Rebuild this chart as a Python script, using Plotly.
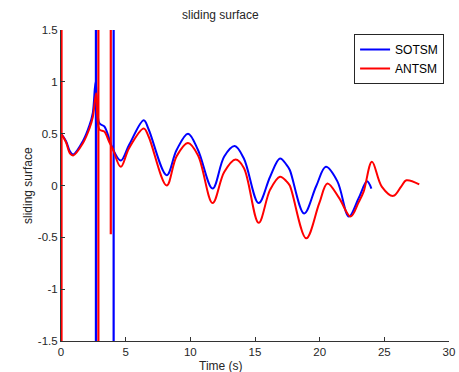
import plotly.graph_objects as go

# --- data ---
t_sotsm = [0.0, 0.38, 0.69, 0.94, 1.7, 2.2, 2.46, 2.68,
           2.97, 3.35, 3.73, 3.98, 4.62, 5.26, 6.4, 6.78, 8.17, 8.93, 9.82,
           10.6, 11.72, 12.62, 13.43, 14.14, 15.28, 16.17, 16.93, 17.44, 17.69,
           18.8, 19.72, 20.48, 21.37, 22.26, 23.02, 23.66, 24.0]
v_sotsm = [0.50, 0.43, 0.33, 0.30, 0.43, 0.58, 0.70, 1.00,
           0.60, 0.57, 0.45, 0.36, 0.24, 0.39, 0.63, 0.54, 0.10, 0.34, 0.50,
           0.34, -0.03, 0.28, 0.38, 0.26, -0.17, 0.085, 0.26, 0.20, 0.15,
           -0.27, -0.01, 0.18, 0.04, -0.30, -0.12, 0.04, -0.03]

t_antsm = [0.0, 0.38, 0.69, 0.94, 1.7, 2.2, 2.46, 2.72,
           2.97, 3.35, 3.73, 3.98, 4.62, 5.26, 6.4, 6.78, 8.17, 8.93, 9.82,
           10.6, 11.72, 12.62, 13.5, 14.14, 15.28, 16.17, 16.93, 17.44, 17.69,
           18.96, 19.97, 20.6, 21.5, 22.39, 23.02, 23.4, 24.04, 24.8, 25.69,
           26.3, 26.7, 27.7]
v_antsm = [0.50, 0.42, 0.31, 0.29, 0.41, 0.55, 0.66, 0.89,
           0.54, 0.52, 0.42, 0.36, 0.18, 0.36, 0.55, 0.47, 0.0, 0.28, 0.41,
           0.29, -0.17, 0.13, 0.25, 0.17, -0.36, -0.04, 0.085, 0.04, 0.0,
           -0.51, -0.17, 0.02, -0.12, -0.30, -0.16, -0.06, 0.23, -0.01, -0.10,
           -0.01, 0.05, 0.01]

# chattering spikes (time, low value, high value)
spike_t_sotsm = [2.70, 4.07]
spike_lo_sotsm = [-5.0, -5.0]
spike_hi_sotsm = [5.0, 5.0]
spike_t_antsm = [0.04, 2.89, 3.85]
spike_lo_antsm = [-5.0, -5.0, -0.47]
spike_hi_antsm = [5.0, 5.0, 5.0]

x_ticks = [0, 5, 10, 15, 20, 25, 30]
y_ticks = [-1.5, -1, -0.5, 0, 0.5, 1, 1.5]
y_tick_text = ["-1.5", "-1", "-0.5", "0", "0.5", "1", "1.5"]

BLUE = "#0000FF"
RED = "#FF0000"
FONT = "Liberation Sans, Arial, sans-serif"

fig = go.Figure()

def add_spikes(ts, los, his, color, group):
    xs, ys = [], []
    for t, lo, hi in zip(ts, los, his):
        xs += [t, t, None]
        ys += [lo, hi, None]
    fig.add_trace(go.Scatter(x=xs, y=ys, mode="lines", line=dict(color=color, width=2.2),
                             showlegend=False, legendgroup=group, hoverinfo="skip"))

fig.add_trace(go.Scatter(x=t_sotsm, y=v_sotsm, mode="lines", name="SOTSM",
                         line=dict(color=BLUE, width=2, shape="spline", smoothing=1.0),
                         legendgroup="s"))
add_spikes(spike_t_sotsm, spike_lo_sotsm, spike_hi_sotsm, BLUE, "s")
fig.add_trace(go.Scatter(x=t_antsm, y=v_antsm, mode="lines", name="ANTSM",
                         line=dict(color=RED, width=2, shape="spline", smoothing=1.0),
                         legendgroup="a"))
add_spikes(spike_t_antsm, spike_lo_antsm, spike_hi_antsm, RED, "a")

W, H = 459, 372
L, R, T, B = 61, 4, 30, 31

fig.update_layout(
    width=W, height=H,
    margin=dict(l=L, r=R, t=T, b=B, pad=0),
    paper_bgcolor="white", plot_bgcolor="white",
    font=dict(family=FONT, size=12, color="#262626"),
    showlegend=True,
    legend=dict(x=(450 - L) / (W - L - R), y=(H - B - 34) / (H - T - B),
                xanchor="right", yanchor="top",
                bgcolor="white", bordercolor="#262626", borderwidth=1,
                font=dict(family=FONT, size=12, color="#000000"),
                tracegroupgap=0, itemwidth=30),
    xaxis=dict(range=[0, 30], tickvals=x_ticks, ticks="inside", ticklen=4,
               tickcolor="#333333", showline=True, linecolor="#333333", linewidth=1,
               showgrid=False, zeroline=False, mirror=False,
               ticklabeloverflow="allow",
               tickfont=dict(size=11.5, color="#262626")),
    yaxis=dict(range=[-1.5, 1.5], tickvals=y_ticks, ticktext=y_tick_text,
               ticks="inside", ticklen=4,
               tickcolor="#333333", showline=True, linecolor="#333333", linewidth=1,
               showgrid=False, zeroline=False, mirror=False,
               ticklabeloverflow="allow",
               tickfont=dict(size=11.5, color="#262626")),
    annotations=[
        dict(text="sliding surface", xref="paper", yref="paper",
             x=(223 - L) / (W - L - R), y=(H - B - 15) / (H - T - B),
             xanchor="center", yanchor="middle", showarrow=False,
             font=dict(size=12, color="#262626")),
        dict(text="Time (s)", xref="paper", yref="paper",
             x=(223 - L) / (W - L - R), y=(H - B - 366) / (H - T - B),
             xanchor="center", yanchor="middle", showarrow=False,
             font=dict(size=12, color="#262626")),
        dict(text="sliding surface", xref="paper", yref="paper",
             x=(27 - L) / (W - L - R), y=0.5, textangle=-90,
             xanchor="center", yanchor="middle", showarrow=False,
             font=dict(size=12, color="#262626")),
    ],
)

fig.write_html("out.html")
